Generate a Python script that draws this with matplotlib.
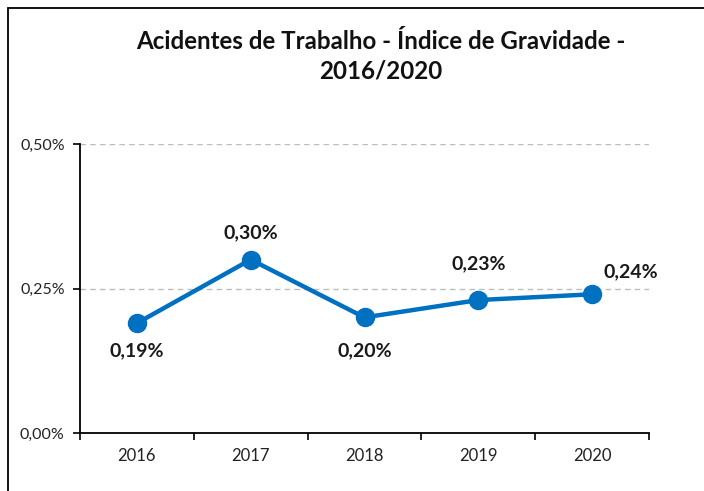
import matplotlib
matplotlib.use("Agg")
import matplotlib.pyplot as plt
from matplotlib.patches import Rectangle
from matplotlib.ticker import FixedLocator

plt.rcParams['font.family'] = ['Lato', 'DejaVu Sans']

years = ["2016", "2017", "2018", "2019", "2020"]
values = [0.19, 0.30, 0.20, 0.23, 0.24]
value_labels = ["0,19%", "0,30%", "0,20%", "0,23%", "0,24%"]
y_ticks = [0.0, 0.25, 0.50]
y_tick_labels = ["0,00%", "0,25%", "0,50%"]

# label offsets (points) relative to each marker
label_offsets = [(0, -20), (0, 19), (0, -24), (0, 26), (28, 16)]

W, H = 704, 491
fig = plt.figure(figsize=(W / 100, H / 100), dpi=100)
fig.patch.set_facecolor("white")

# outer frame
fig.patches.append(Rectangle((8 / W, -0.1), 1.2, 1 - 8 / H + 0.1,
                             transform=fig.transFigure, fill=False,
                             edgecolor="black", linewidth=1.3))

ax = fig.add_axes([80 / W, 1 - 433 / H, (649 - 80) / W, (433 - 144) / H])
x = list(range(len(years)))

blue = "#0070C0"
ax.plot(x, values, color=blue, linewidth=3.2, marker="o", markersize=13,
        solid_capstyle="round", zorder=3)

for xi, v, lab, off in zip(x, values, value_labels, label_offsets):
    ax.annotate(lab, (xi, v), xytext=off, textcoords="offset points",
                ha="center", va="center", fontsize=14, fontweight="bold",
                color="#1a1a1a")

ax.set_xlim(-0.5, len(years) - 0.5)
ax.set_ylim(0, 0.5)
ax.set_yticks(y_ticks)
ax.set_yticklabels(y_tick_labels, fontsize=11.5, color="#222222")
ax.set_xticks(x)
ax.set_xticklabels(years, fontsize=12, color="#222222")
ax.tick_params(axis="x", length=0, pad=11)
ax.xaxis.set_minor_locator(FixedLocator([i - 0.5 for i in range(len(years) + 1)]))
ax.tick_params(axis="x", which="minor", length=5, width=1.2, direction="out")
ax.tick_params(axis="y", length=5, width=1.2, direction="out", pad=6)

for yv in y_ticks[1:]:
    ax.axhline(yv, color="#BDBDBD", linestyle=(0, (4, 3)), linewidth=1, zorder=1)

for s in ["top", "right"]:
    ax.spines[s].set_visible(False)
for s in ["left", "bottom"]:
    ax.spines[s].set_linewidth(1.3)
    ax.spines[s].set_color("black")

fig.text(381 / W, 1 - 56 / H, "Acidentes de Trabalho - Índice de Gravidade -\n2016/2020",
         ha="center", va="center", fontsize=17.4, fontweight="bold",
         linespacing=1.35, color="#111111")

fig.savefig("out.png", dpi=100, facecolor="white")
